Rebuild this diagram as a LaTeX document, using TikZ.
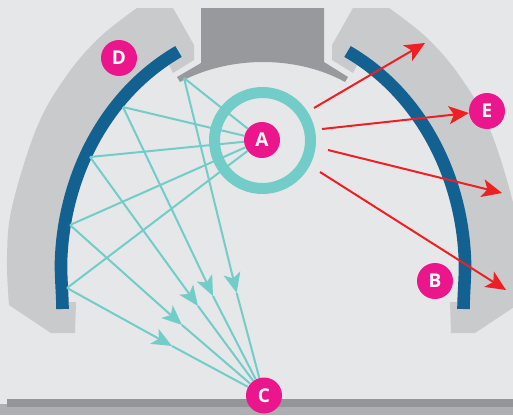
\documentclass[tikz,border=0pt]{standalone}
\usepackage{fontspec}
\setmainfont{Open Sans}
\usetikzlibrary{arrows.meta}
\definecolor{bgc}{HTML}{E6E7E9}
\definecolor{shoec}{HTML}{C9CACC}
\definecolor{blockc}{HTML}{98999C}
\definecolor{barc}{HTML}{949598}
\definecolor{barl}{HTML}{AEAFB2}
\definecolor{bluec}{HTML}{136190}
\definecolor{tealc}{HTML}{72CDC9}
\definecolor{magc}{HTML}{EC168C}
\definecolor{redc}{HTML}{EE2024}
\tikzset{
  badge/.style={circle,fill=magc,draw=none,minimum size=36pt,inner sep=0pt,text=white,font=\fontsize{19}{19}\selectfont\bfseries},
  ray/.style={draw=tealc,line width=2pt},
  rayhead/.style={draw=tealc,line width=2pt,-{Stealth[length=20pt,width=17pt,inset=5pt,fill=tealc]}},
  beam/.style={draw=redc,line width=2pt,-{Stealth[length=20pt,width=18pt,inset=5pt,fill=redc]}},
}
\newcommand{\halfshoe}{%
  \fill[shoec] plot[smooth,tension=0.6] coordinates {(137,8) (100,37) (67,75) (37,127) (12,207) (7,258) (9,305)}
    -- (51,333) -- (75,333) -- (76,302) -- (62.3,302) -- (61,262) .. controls (63.5,177) and (105,94) .. (178.5,51.5) -- (169,65) -- (173,73) -- (194,60) -- (194,45) -- (173,8) -- cycle;
  \draw[bluec,line width=12.6pt] (62.5,309) .. controls (62.5,295) and (60.7,276) .. (61,262) .. controls (63.5,177) and (105,94) .. (178.5,51.5);
}
\begin{document}
\begin{tikzpicture}[x=1pt,y=-1pt]
\useasboundingbox (0,0) rectangle (513,415);
\clip (0,0) rectangle (513,415);
\fill[bgc] (0,0) rectangle (513,415);
\fill[barl] (0,404) rectangle (513,415);
\fill[barc] (7,399) rectangle (513,407);
\halfshoe
\begin{scope}[xshift=526pt,xscale=-1]
\halfshoe
\end{scope}
\fill[blockc] (201,8) -- (324,8) -- (324,62) -- (348,77) -- (345,82) .. controls (320,68) and (290,62) .. (263,62) .. controls (236,62) and (206,68) .. (180,82) -- (177,77) -- (201,63) -- cycle;
\draw[tealc,line width=11pt] (262.5,140.5) circle[radius=48];
\node[badge] (A) at (262,140) {A};
\node[badge] (B) at (435,281) {B};
\node[badge] (C) at (264,395.5) {C};
\node[badge] (D) at (119,58) {D};
\node[badge] (E) at (487,111) {E};
\coordinate (w1) at (184,78);
\coordinate (w2) at (123,107);
\coordinate (w3) at (90,157);
\coordinate (w4) at (70,225);
\coordinate (w5) at (67,288);
\coordinate (t1) at (236.7,293);
\coordinate (t2) at (213,296);
\coordinate (t3) at (198,306);
\coordinate (t4) at (182,325);
\coordinate (t5) at (172,346);
\foreach \i in {1,...,5}{
  \draw[ray] (A) -- (w\i);
  \draw[rayhead] (w\i) -- (t\i);
  \draw[ray] (t\i) -- (C);
}
\coordinate (s1) at (314,108);
\coordinate (e1) at (425,43);
\coordinate (s2) at (322,129);
\coordinate (s3) at (328,150);
\coordinate (e3) at (502,193);
\coordinate (s4) at (320,172);
\coordinate (e4) at (506,290);
\draw[beam] (s1) -- (e1);
\draw[beam] (s2) -- (E);
\draw[beam] (s3) -- (e3);
\draw[beam] (s4) -- (e4);
\end{tikzpicture}
\end{document}
